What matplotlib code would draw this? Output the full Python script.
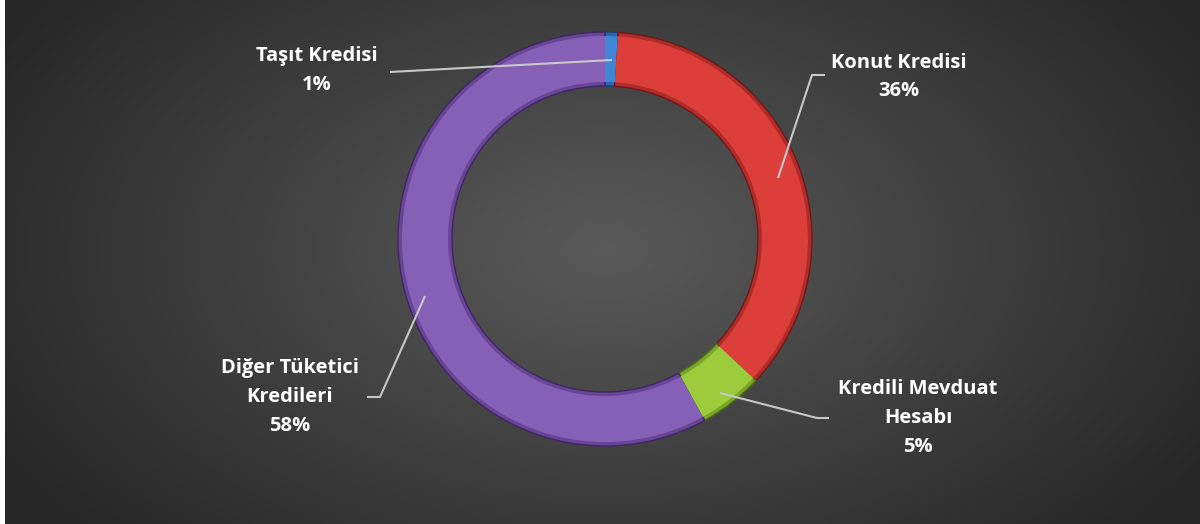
import numpy as np
import matplotlib
matplotlib.use("Agg")
import matplotlib.pyplot as plt

categories = ["Taşıt Kredisi", "Konut Kredisi", "Kredili Mevduat\nHesabı", "Diğer Tüketici\nKredileri"]
values = [1, 36, 5, 58]
colors = ["#3F86D6", "#DC3E3A", "#9CCB3B", "#8560B6"]
dark_colors = ["#2A66AE", "#B02C29", "#7AA62A", "#684596"]
edge_colors = ["#1A3F6E", "#6E1A18", "#4A6A15", "#3E2763"]

W, H = 1200, 524
fig = plt.figure(figsize=(W / 100, H / 100), dpi=100)
fig.patch.set_facecolor("white")
ax = fig.add_axes([0, 0, 1, 1])
ax.set_xlim(0, W)
ax.set_ylim(0, H)
ax.set_aspect("equal")
ax.axis("off")

# radial gradient background
yy, xx = np.mgrid[0:H, 0:W - 5]
cx, cy = 600, H - 250
d = np.sqrt(((xx - cx) / 700.0) ** 2 + ((yy - cy) / 420.0) ** 2)
d = np.clip(d, 0, 1)
c0 = np.array([0x5A, 0x5A, 0x5A]) / 255.0
c1 = np.array([0x27, 0x27, 0x27]) / 255.0
img = c0[None, None, :] * (1 - d[..., None]) + c1[None, None, :] * d[..., None]
ax.imshow(img, extent=(5, W, 0, H), origin="lower", zorder=0, interpolation="bilinear")

center = (605, H - 239)
R = 207
ring_w = 54

# base (darker bevel)
wedges, _ = ax.pie(values, colors=dark_colors, startangle=90, counterclock=False,
                   radius=R, center=center,
                   wedgeprops=dict(width=ring_w, linewidth=1.0))
for w, ec in zip(wedges, edge_colors):
    w.set_edgecolor(ec)
    w.set_zorder(3)

# main face
wedges2, _ = ax.pie(values, colors=colors, startangle=90, counterclock=False,
                    radius=R - 4, center=center,
                    wedgeprops=dict(width=ring_w - 8, linewidth=0))
for w in wedges2:
    w.set_zorder(4)

ax.set_xlim(0, W)
ax.set_ylim(0, H)
ax.set_aspect("equal")

# label positions and elbows (pixel coords, y from top)
label_pos = [(317, 71), (899, 77), (918, 418), (290, 397)]
elbows = [[(390, 72)], [(812, 75), (825, 75)], [(817, 418), (829, 418)], [(380, 397), (367, 397)]]
starts = [(612, 60), (778, 178), (720, 393), (425, 296)]

for cat, v, (lx, ly), el, st in zip(categories, values, label_pos, elbows, starts):
    pts = [st] + el
    xs = [p[0] for p in pts]
    ys = [H - p[1] for p in pts]
    ax.plot(xs, ys, color="#C8C8C8", lw=1.5, zorder=5, solid_capstyle="butt")
    ax.text(lx, H - ly, f"{cat}\n{v}%", ha="center", va="center", color="white",
            fontsize=14.5, fontweight="bold", family=["Open Sans", "DejaVu Sans"],
            linespacing=1.6, zorder=6)

fig.savefig("out.png", dpi=100, facecolor=fig.get_facecolor())
